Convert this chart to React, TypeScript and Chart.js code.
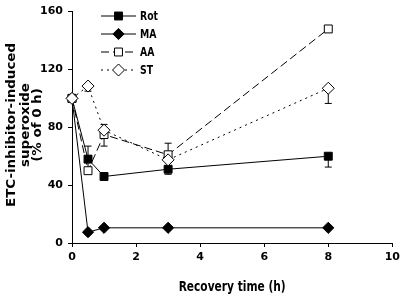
import React, { useEffect, useRef } from "react";
import { Chart, registerables } from "chart.js";

Chart.register(...registerables);

const times = [0, 0.5, 1, 3, 8];
const rotValues = [100, 58, 46, 51, 60];
const maValues = [100, 7.5, 10.5, 10.5, 10.5];
const aaValues = [100, 50, 75, 61, 148];
const stValues = [100, 108.5, 78, 57.5, 107];

// error bar tip values (null = none)
const rotErrTips = [null, null, null, 47.5, 52.5];
const maErrTips = [null, null, null, null, null];
const aaErrTips = [null, 67, 67, 69, 149.5];
const stErrTips = [null, 105, 82, null, 96.5];

const seriesNames = ["Rot", "MA", "AA", "ST"];
const yTitleLines = ["ETC-inhibitor-induced", "superoxide", "(% of 0 h)"];
const xTitle = "Recovery time (h)";

const FONT = "'DejaVu Sans', sans-serif";

type Sty = { dash: number[]; shape: "rect" | "rectRot"; fill: string; r: number };
const styles: Sty[] = [
  { dash: [], shape: "rect", fill: "#000", r: 5.6 },
  { dash: [], shape: "rectRot", fill: "#000", r: 5.6 },
  { dash: [8, 4], shape: "rect", fill: "#fff", r: 5.6 },
  { dash: [2, 4], shape: "rectRot", fill: "#fff", r: 6 },
];

function drawMarker(ctx: CanvasRenderingContext2D, s: Sty, x: number, y: number) {
  ctx.save();
  ctx.setLineDash([]);
  ctx.beginPath();
  if (s.shape === "rect") {
    const h = s.r * Math.SQRT1_2;
    ctx.rect(x - h, y - h, 2 * h, 2 * h);
  } else {
    ctx.moveTo(x, y - s.r);
    ctx.lineTo(x + s.r, y);
    ctx.lineTo(x, y + s.r);
    ctx.lineTo(x - s.r, y);
    ctx.closePath();
  }
  ctx.fillStyle = s.fill;
  ctx.fill();
  ctx.lineWidth = 1;
  ctx.strokeStyle = "#000";
  ctx.stroke();
  ctx.restore();
}

const errorBarPlugin = {
  id: "errorBars",
  beforeDatasetsDraw(chart: any) {
    const ctx = chart.ctx;
    const xs = chart.scales.x;
    const ys = chart.scales.y;
    const tipsAll = [rotErrTips, maErrTips, aaErrTips, stErrTips];
    const valsAll = [rotValues, maValues, aaValues, stValues];
    ctx.save();
    ctx.strokeStyle = "#000";
    ctx.lineWidth = 1;
    ctx.setLineDash([]);
    tipsAll.forEach((tips, di) => {
      tips.forEach((tip, i) => {
        if (tip === null || tip === undefined) return;
        const px = xs.getPixelForValue(times[i]);
        const py0 = ys.getPixelForValue(valsAll[di][i]);
        const py1 = ys.getPixelForValue(tip as number);
        ctx.beginPath();
        ctx.moveTo(px, py0);
        ctx.lineTo(px, py1);
        ctx.moveTo(px - 3.5, py1);
        ctx.lineTo(px + 3.5, py1);
        ctx.stroke();
      });
    });
    ctx.restore();
  },
  afterDraw(chart: any) {
    const ctx = chart.ctx;
    const area = chart.chartArea;
    ctx.save();
    ctx.fillStyle = "#000";
    // legend
    const rows = [16, 34, 52, 70];
    ctx.font = `bold 11.5px ${FONT}`;
    const legScale = 18 / ctx.measureText("Rot").width;
    seriesNames.forEach((name, i) => {
      const s = styles[i];
      const y = rows[i];
      ctx.beginPath();
      ctx.setLineDash(s.dash);
      ctx.strokeStyle = "#000";
      ctx.lineWidth = 1;
      ctx.moveTo(101, y);
      ctx.lineTo(136, y);
      ctx.stroke();
      drawMarker(ctx, s, 118.5, y);
      ctx.setLineDash([]);
      ctx.save();
      ctx.translate(140, y + 4.2);
      ctx.scale(legScale, 1);
      ctx.textAlign = "left";
      ctx.textBaseline = "alphabetic";
      ctx.fillText(name, 0, 0);
      ctx.restore();
    });
    // x title
    ctx.font = `bold 13.5px ${FONT}`;
    const xsScale = 107 / ctx.measureText(xTitle).width;
    ctx.save();
    ctx.translate((area.left + area.right) / 2, 291);
    ctx.scale(xsScale, 1);
    ctx.textAlign = "center";
    ctx.textBaseline = "alphabetic";
    ctx.fillText(xTitle, 0, 0);
    ctx.restore();
    // y title
    ctx.font = `bold 13px ${FONT}`;
    const ysScale = 164 / ctx.measureText(yTitleLines[0]).width;
    const cy = 125;
    const baseXs = [14.5, 28.5, 41];
    yTitleLines.forEach((line, i) => {
      ctx.save();
      ctx.translate(baseXs[i], cy);
      ctx.rotate(-Math.PI / 2);
      ctx.scale(ysScale, 1);
      ctx.textAlign = "center";
      ctx.textBaseline = "alphabetic";
      ctx.fillText(line, 0, 0);
      ctx.restore();
    });
    ctx.restore();
  },
};

export default function App() {
  const ref = useRef<HTMLCanvasElement>(null);
  useEffect(() => {
    document.body.style.margin = "0";
    const mk = (data: number[], i: number, order: number) => ({
      label: seriesNames[i],
      data: times.map((t, k) => ({ x: t, y: data[k] })),
      borderColor: "#000",
      borderWidth: 1,
      borderDash: styles[i].dash,
      backgroundColor: styles[i].fill,
      pointStyle: styles[i].shape,
      pointRadius: styles[i].r,
      pointBorderWidth: 1,
      pointBorderColor: "#000",
      pointBackgroundColor: styles[i].fill,
      showLine: true,
      tension: 0,
      clip: false,
      order,
    });
    const chart = new Chart(ref.current as HTMLCanvasElement, {
      type: "scatter",
      data: {
        datasets: [
          mk(rotValues, 0, 2),
          mk(maValues, 1, 3),
          mk(aaValues, 2, 1),
          mk(stValues, 3, 0),
        ],
      },
      options: {
        animation: false,
        responsive: false,
        devicePixelRatio: 1,
        layout: { padding: { top: 10.7, right: 9, left: 0, bottom: 0 } },
        plugins: { legend: { display: false }, tooltip: { enabled: false } },
        scales: {
          x: {
            type: "linear",
            min: 0,
            max: 10,
            ticks: { stepSize: 2, color: "#000", font: { family: FONT, size: 11, weight: "bold" }, padding: 4 },
            grid: { display: true, drawOnChartArea: false, drawTicks: true, tickLength: 4, color: "#000" },
            border: { display: true, color: "#000", width: 1 },
            afterFit: (s: any) => { s.height = 54; },
          },
          y: {
            type: "linear",
            min: 0,
            max: 160,
            ticks: { stepSize: 40, color: "#000", font: { family: FONT, size: 11, weight: "bold" }, padding: 5 },
            grid: { display: true, drawOnChartArea: false, drawTicks: true, tickLength: 4, color: "#000" },
            border: { display: true, color: "#000", width: 1 },
            afterFit: (s: any) => { s.width = 72; },
          },
        },
      },
      plugins: [errorBarPlugin],
    } as any);
    return () => chart.destroy();
  }, []);
  return (
    <div style={{ width: 404, height: 297, background: "#fff" }}>
      <canvas ref={ref} width={404} height={297} style={{ display: "block" }} />
    </div>
  );
}
